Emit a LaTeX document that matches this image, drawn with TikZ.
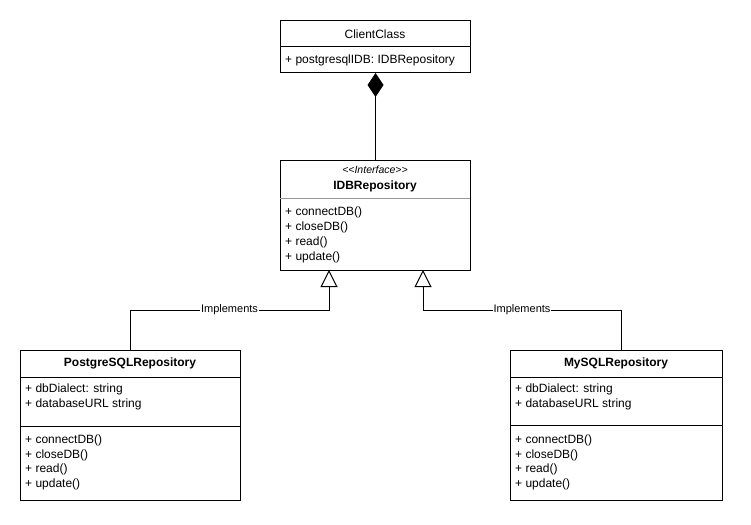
\documentclass[tikz,border=0pt]{standalone}
\usepackage{fontspec}
\setmainfont{Liberation Sans}
\usetikzlibrary{arrows.meta}
\begin{document}
\begin{tikzpicture}[x=1pt,y=-1pt,
  box/.style={draw=black,line width=1pt,fill=white,anchor=north west,inner sep=0pt},
  txt/.style={inner sep=0pt,font=\fontsize{12}{14}\selectfont},
  lt/.style={txt,anchor=west},
  lbl/.style={fill=white,inner sep=1pt,font=\fontsize{11}{12}\selectfont},
  conn/.style={line width=1pt,draw=black},
  impl/.style={conn,-{Triangle[open,length=17pt,width=17pt,line width=1pt]}},
  comp/.style={conn,-{Diamond[length=24pt,width=16pt]}}]
\useasboundingbox (0,0) rectangle (751,524);
% ClientClass
\node[box,minimum width=190pt,minimum height=52pt] (client) at (280,20) {};
\draw[line width=1pt] (280,47) -- (470,47);
\node[txt] (clientname) at (375,34) {ClientClass};
\node[lt] (clientattr) at (285,60) {+ postgresqlIDB: IDBRepository};
% IDBRepository
\node[box,minimum width=190pt,minimum height=110pt] (idb) at (280,160) {};
\draw[line width=1pt,draw=gray!80] (280,198) -- (470,198);
\node[txt,font=\itshape\fontsize{10.5}{12}\selectfont] (idbst) at (375,170) {\textless\kern0pt\textless Interface\textgreater\kern0pt\textgreater};
\node[txt,font=\bfseries\fontsize{12}{14}\selectfont] (idbname) at (375,186) {IDBRepository};
\node[lt] (idbm1) at (285,212) {+ connectDB()};
\node[lt] (idbm2) at (285,227) {+ closeDB()};
\node[lt] (idbm3) at (285,242) {+ read()};
\node[lt] (idbm4) at (285,257) {+ update()};
% PostgreSQLRepository
\node[box,minimum width=220pt,minimum height=150pt] (pg) at (20,350) {};
\draw[line width=1pt] (20,377) -- (240,377);
\draw[line width=1pt] (20,426) -- (240,426);
\node[txt,font=\bfseries\fontsize{12}{14}\selectfont] (pgname) at (130,363) {PostgreSQLRepository};
\node[lt] (pga1) at (25,389) {+ dbDialect: string};
\node[lt] (pga2) at (25,404) {+ databaseURL string};
\node[lt] (pgm1) at (25,440) {+ connectDB()};
\node[lt] (pgm2) at (25,455) {+ closeDB()};
\node[lt] (pgm3) at (25,469) {+ read()};
\node[lt] (pgm4) at (25,484) {+ update()};
% MySQLRepository
\node[box,minimum width=212pt,minimum height=150pt] (my) at (510,350) {};
\draw[line width=1pt] (510,377) -- (722,377);
\draw[line width=1pt] (510,425) -- (722,425);
\node[txt,font=\bfseries\fontsize{12}{14}\selectfont] (myname) at (616,363) {MySQLRepository};
\node[lt] (mya1) at (515,389) {+ dbDialect: string};
\node[lt] (mya2) at (515,404) {+ databaseURL string};
\node[lt] (mym1) at (515,440) {+ connectDB()};
\node[lt] (mym2) at (515,455) {+ closeDB()};
\node[lt] (mym3) at (515,469) {+ read()};
\node[lt] (mym4) at (515,484) {+ update()};
% connectors
\draw[comp] (idb.north) -- (client.south);
\coordinate (tl) at (329,270);
\coordinate (tr) at (423,270);
\coordinate (lk) at (329,310);
\coordinate (rk) at (423,310);
\coordinate (pgtop) at (130,350);
\coordinate (mytop) at (621,350);
\draw[impl] (pgtop) |- node[lbl,pos=0.75] (lbl1) {Implements} (lk) -- (tl);
\draw[impl] (mytop) |- node[lbl,pos=0.75] (lbl2) {Implements} (rk) -- (tr);
\end{tikzpicture}
\end{document}
